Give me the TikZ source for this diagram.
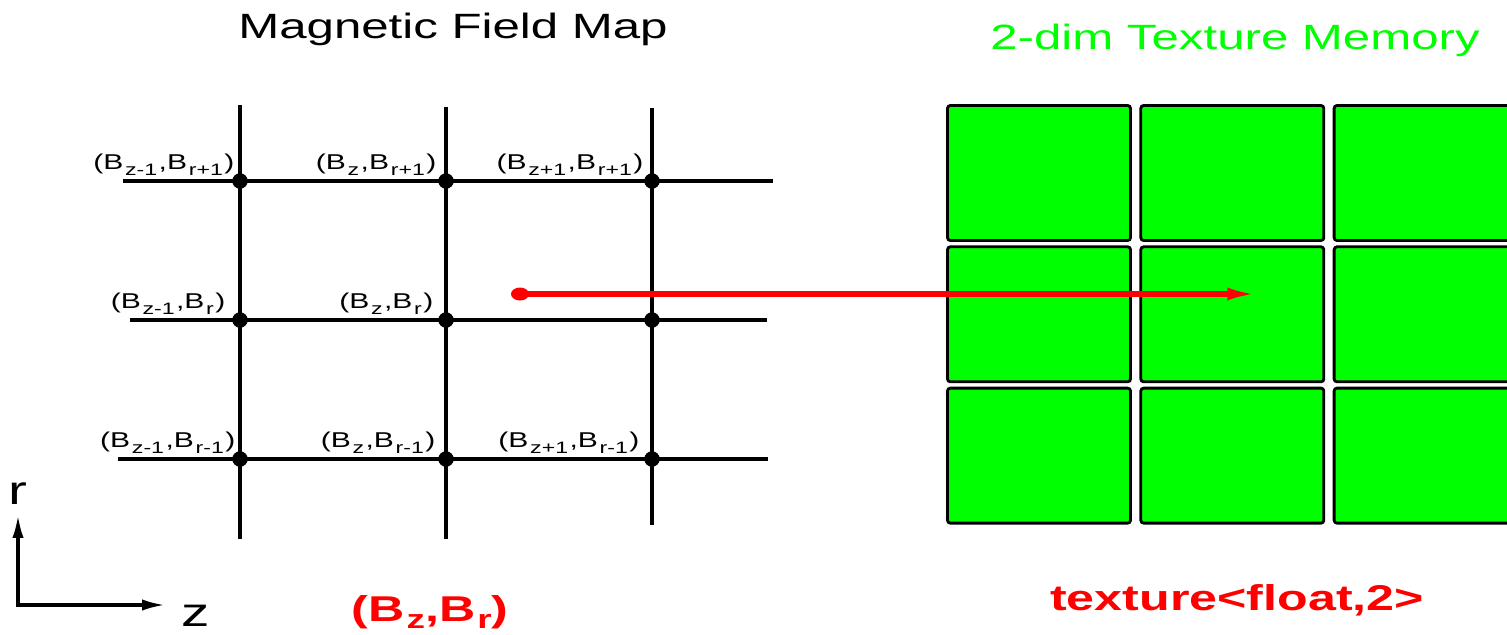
\documentclass[tikz,border=0pt]{standalone}
\usepackage{fontspec}
\setmainfont{Liberation Sans}[FakeStretch=1.4]
\usepackage{tikz}
\usetikzlibrary{arrows.meta, positioning, shapes.geometric}
\definecolor{texgreen}{RGB}{0,255,0}
\definecolor{mapred}{RGB}{255,0,0}
\newcommand\lsub[1]{\kern0.5pt\raisebox{-1.9pt}{\fontsize{4.7}{5}\selectfont #1}\kern0.4pt}
\newcommand\bsub[1]{\kern0.6pt\raisebox{-2.2pt}{\fontsize{7.5}{8}\selectfont\bfseries #1}}

\begin{document}
\begin{tikzpicture}[node distance=0.35mm and 0.75mm, >=Latex,
  cell/.style={draw, fill=texgreen, line width=0.8pt, rounded corners=0.8pt, minimum width=1.83cm, minimum height=1.35cm, inner sep=0pt},
  dot/.style={circle, fill=black, inner sep=0pt, minimum size=1.55mm},
  lab/.style={font=\fontsize{6.1}{7}\selectfont, inner sep=0pt, anchor=base east, yshift=1.2mm},
  head/.style={font=\fontsize{10}{12}\selectfont, inner sep=0pt, anchor=base},
  redlab/.style={font=\fontsize{10.2}{12}\selectfont\bfseries, text=mapred, inner sep=0pt, anchor=base},
  gridline/.style={line width=0.9pt}]
\clip (0,0) rectangle (15.07,6.34);

\node[head] (maptitle) at (4.53,5.96) {Magnetic Field Map};
\node[head, text=texgreen] (memtitle) at (12.35,5.85) {2-dim Texture Memory};

% field map grid
\draw[gridline] (1.23,4.53) -- (7.73,4.53);
\draw[gridline] (1.30,3.14) -- (7.67,3.14);
\draw[gridline] (1.18,1.75) -- (7.68,1.75);
\draw[gridline] (2.40,5.29) -- (2.40,0.95);
\draw[gridline] (4.46,5.27) -- (4.46,0.95);
\draw[gridline] (6.52,5.26) -- (6.52,1.09);

\node[dot] (d11) at (2.40,4.53) {}; \node[dot] (d12) at (4.46,4.53) {}; \node[dot] (d13) at (6.52,4.53) {};
\node[dot] (d21) at (2.40,3.14) {}; \node[dot] (d22) at (4.46,3.14) {}; \node[dot] (d23) at (6.52,3.14) {};
\node[dot] (d31) at (2.40,1.75) {}; \node[dot] (d32) at (4.46,1.75) {}; \node[dot] (d33) at (6.52,1.75) {};

\node[lab, xshift=-0.5mm] (l11) at (d11) {(B\lsub{z-1},B\lsub{r+1})};
\node[lab, xshift=-0.9mm] (l12) at (d12) {(B\lsub{z},B\lsub{r+1})};
\node[lab, xshift=-0.8mm] (l13) at (d13) {(B\lsub{z+1},B\lsub{r+1})};
\node[lab, xshift=-1.4mm] (l21) at (d21) {(B\lsub{z-1},B\lsub{r})};
\node[lab, xshift=-1.2mm] (l22) at (d22) {(B\lsub{z},B\lsub{r})};
\node[lab, xshift=-0.4mm] (l31) at (d31) {(B\lsub{z-1},B\lsub{r-1})};
\node[lab, xshift=-1.0mm] (l32) at (d32) {(B\lsub{z},B\lsub{r-1})};
\node[lab, xshift=-1.2mm] (l33) at (d33) {(B\lsub{z+1},B\lsub{r-1})};

% texture memory
\node[cell] (c11) at (10.39,4.61) {};
\node[cell, right=of c11] (c12) {};
\node[cell, right=of c12] (c13) {};
\node[cell, below=of c11] (c21) {};
\node[cell, right=of c21] (c22) {};
\node[cell, right=of c22] (c23) {};
\node[cell, below=of c21] (c31) {};
\node[cell, right=of c31] (c32) {};
\node[cell, right=of c32] (c33) {};

\node[ellipse, fill=mapred, inner sep=0pt, minimum width=1.8mm, minimum height=1.3mm] (src) at (5.20,3.40) {};
\coordinate (tip) at (12.59,3.40);
\draw[-{Latex[length=9pt, width=3.6pt]}, mapred, line width=1.5pt] (src.center) -- (tip);

% axes
\coordinate (o) at (0.18,0.29);
\coordinate (rend) at (0.18,1.19);
\coordinate (zend) at (1.65,0.29);
\draw[{Latex[length=6.5pt, width=3.2pt]}-{Latex[length=6.5pt, width=3.2pt]}, line width=0.9pt] (rend) |- (zend);
\node[head, font=\fontsize{11.5}{13}\selectfont] (rlab) at (0.18,1.30) {r};
\node[head, font=\fontsize{11.5}{13}\selectfont] (zlab) at (1.96,0.08) {z};

\node[redlab] (fieldlab) at (4.30,0.13) {(B\bsub{z},B\bsub{r})};
\node[redlab] (typelab) at (12.37,0.24) {texture<float,2>};
\end{tikzpicture}
\end{document}
